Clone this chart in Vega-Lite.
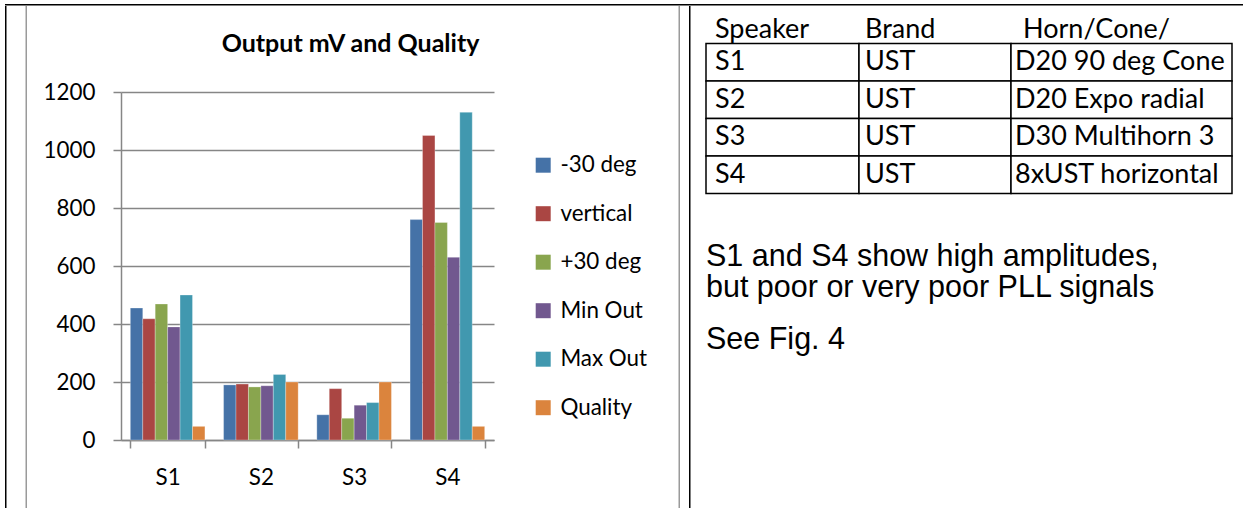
{
  "$schema": "https://vega.github.io/schema/vega-lite/v6.json",
  "background": "white",
  "padding": {"left": 5, "top": 4, "right": 0, "bottom": 0},
  "config": {"view": {"stroke": null}, "font": "Lato", "concat": {"spacing": 0}},
  "datasets": {
    "none": [],
    "bars": [
      {"speaker": "S1", "series": "-30 deg", "value": 455},
      {"speaker": "S1", "series": "vertical", "value": 418},
      {"speaker": "S1", "series": "+30 deg", "value": 469},
      {"speaker": "S1", "series": "Min Out", "value": 390},
      {"speaker": "S1", "series": "Max Out", "value": 500},
      {"speaker": "S1", "series": "Quality", "value": 47},
      {"speaker": "S2", "series": "-30 deg", "value": 190},
      {"speaker": "S2", "series": "vertical", "value": 193},
      {"speaker": "S2", "series": "+30 deg", "value": 183},
      {"speaker": "S2", "series": "Min Out", "value": 187},
      {"speaker": "S2", "series": "Max Out", "value": 226},
      {"speaker": "S2", "series": "Quality", "value": 200},
      {"speaker": "S3", "series": "-30 deg", "value": 87},
      {"speaker": "S3", "series": "vertical", "value": 177},
      {"speaker": "S3", "series": "+30 deg", "value": 75},
      {"speaker": "S3", "series": "Min Out", "value": 120},
      {"speaker": "S3", "series": "Max Out", "value": 129},
      {"speaker": "S3", "series": "Quality", "value": 200},
      {"speaker": "S4", "series": "-30 deg", "value": 760},
      {"speaker": "S4", "series": "vertical", "value": 1050},
      {"speaker": "S4", "series": "+30 deg", "value": 750},
      {"speaker": "S4", "series": "Min Out", "value": 630},
      {"speaker": "S4", "series": "Max Out", "value": 1130},
      {"speaker": "S4", "series": "Quality", "value": 47}
    ],
    "table": [
      {"row": "Header", "col": "Speaker", "text": "Speaker"},
      {"row": "Header", "col": "Brand", "text": "Brand"},
      {"row": "Header", "col": "Horn", "text": "Horn/Cone/"},
      {"row": "S1", "col": "Speaker", "text": "S1"},
      {"row": "S1", "col": "Brand", "text": "UST"},
      {"row": "S1", "col": "Horn", "text": "D20 90 deg Cone"},
      {"row": "S2", "col": "Speaker", "text": "S2"},
      {"row": "S2", "col": "Brand", "text": "UST"},
      {"row": "S2", "col": "Horn", "text": "D20 Expo radial"},
      {"row": "S3", "col": "Speaker", "text": "S3"},
      {"row": "S3", "col": "Brand", "text": "UST"},
      {"row": "S3", "col": "Horn", "text": "D30 Multihorn 3"},
      {"row": "S4", "col": "Speaker", "text": "S4"},
      {"row": "S4", "col": "Brand", "text": "UST"},
      {"row": "S4", "col": "Horn", "text": "8xUST horizontal"}
    ]
  },
  "spacing": 0,
  "vconcat": [
    {"width": 1238, "height": 1.5, "data": {"name": "none"}, "mark": {"type": "text"}, "encoding": {}, "view": {"fill": "#000000", "stroke": null}},
    {
      "spacing": 18.5,
      "hconcat": [
        {"width": 1.5, "height": 502, "data": {"name": "none"}, "mark": {"type": "text"}, "encoding": {}, "view": {"fill": "#000000", "stroke": null}},
        {
          "spacing": 15.5,
          "hconcat": [
            {"width": 1.5, "height": 502, "data": {"name": "none"}, "mark": {"type": "text"}, "encoding": {}, "view": {"fill": "#9a9a9a", "stroke": null}},
            {
              "spacing": 184.5,
              "hconcat": [
                {
                  "spacing": 0,
                  "vconcat": [
                    {"width": 1, "height": 26, "data": {"name": "none"}, "mark": {"type": "text"}, "encoding": {}},
                    {
                      "width": 373,
                      "height": 348,
                      "data": {"name": "bars"},
                      "title": {"text": "Output mV and Quality", "font": "Lato", "fontSize": 25, "fontWeight": "bold", "color": "#000000", "anchor": "middle", "frame": "bounds", "baseline": "alphabetic", "offset": 4, "dx": 82},
                      "mark": {"type": "bar", "stroke": "#ffffff", "strokeOpacity": 0.35, "strokeWidth": 0.8},
                      "encoding": {
                        "x": {"field": "speaker", "type": "nominal", "sort": ["S1", "S2", "S3", "S4"],
                              "scale": {"paddingInner": 0.2, "paddingOuter": 0.1},
                              "axis": {"title": null, "labelAngle": 0, "tickBand": "extent", "tickSize": 8, "tickWidth": 1.5, "tickColor": "#868686", "domainColor": "#868686", "domainWidth": 1.5, "labelFont": "Lato", "labelFontSize": 22.4, "labelColor": "#000000", "labelBaseline": "alphabetic", "labelPadding": 36}},
                        "xOffset": {"field": "series", "type": "nominal", "sort": ["-30 deg", "vertical", "+30 deg", "Min Out", "Max Out", "Quality"], "scale": {"paddingInner": 0, "paddingOuter": 0}},
                        "y": {"field": "value", "type": "quantitative", "scale": {"domain": [0, 1200], "nice": false},
                              "axis": {"title": null, "format": "d", "values": [0, 200, 400, 600, 800, 1000, 1200], "grid": true, "gridColor": "#868686", "gridWidth": 1.5, "domainColor": "#868686", "domainWidth": 1.5, "tickSize": 8, "tickWidth": 1.5, "tickColor": "#868686", "labelPadding": 18, "labelFont": "Lato", "labelFontSize": 22.4, "labelColor": "#000000"}},
                        "color": {"field": "series", "type": "nominal",
                                  "scale": {"domain": ["-30 deg", "vertical", "+30 deg", "Min Out", "Max Out", "Quality"], "range": ["#4572A7", "#AA4643", "#89A54E", "#71588F", "#4198AF", "#DB843D"]},
                                  "legend": {"title": null, "orient": "none", "legendX": 527, "legendY": 150, "padding": 0, "symbolType": "square", "symbolSize": 225, "symbolStrokeWidth": 0, "symbolOpacity": 1, "labelFont": "Lato", "labelFontSize": 22.4, "labelColor": "#000000", "labelOffset": 6, "rowPadding": 25.5}}
                      }
                    }
                  ]
                },
                {
                  "spacing": 8.5,
                  "hconcat": [
                    {"width": 1.5, "height": 502, "data": {"name": "none"}, "mark": {"type": "text"}, "encoding": {}, "view": {"fill": "#9a9a9a", "stroke": null}},
                    {
                      "spacing": 14,
                      "hconcat": [
                        {"width": 1.5, "height": 502, "data": {"name": "none"}, "mark": {"type": "text"}, "encoding": {}, "view": {"fill": "#000000", "stroke": null}},
                        {
                          "spacing": 46,
                          "vconcat": [
                            {
                              "spacing": 0,
                              "bounds": "flush",
                              "hconcat": [
                                {
                                  "width": 153, "height": 187.5,
                                  "data": {"name": "table"},
                                  "transform": [{"filter": "datum.col === 'Speaker'"}],
                                  "encoding": {
                                    "x": {"field": "col", "type": "nominal", "scale": {"paddingInner": 0, "paddingOuter": 0}, "axis": null},
                                    "y": {"field": "row", "type": "nominal", "scale": {"domain": ["Header", "S1", "S2", "S3", "S4"], "paddingInner": 0, "paddingOuter": 0}, "axis": null}
                                  },
                                  "layer": [
                                    {"transform": [{"filter": "datum.row !== 'Header'"}], "mark": {"type": "rect", "fill": "#ffffff", "stroke": "#000000", "strokeWidth": 1.5}},
                                    {"transform": [{"filter": "datum.row !== 'Header'"}], "mark": {"type": "text", "align": "left", "baseline": "middle", "dx": 9, "font": "Lato", "fontSize": 27, "color": "#000000"},
                                     "encoding": {"text": {"field": "text"}, "x": {"field": "col", "type": "nominal", "bandPosition": 0}}},
                                    {"transform": [{"filter": "datum.row === 'Header'"}], "mark": {"type": "text", "align": "left", "baseline": "middle", "dx": 9, "dy": 5, "font": "Lato", "fontSize": 27, "color": "#000000"},
                                     "encoding": {"text": {"field": "text"}, "x": {"field": "col", "type": "nominal", "bandPosition": 0}}}
                                  ]
                                },
                                {
                                  "width": 152, "height": 187.5,
                                  "data": {"name": "table"},
                                  "transform": [{"filter": "datum.col === 'Brand'"}],
                                  "encoding": {
                                    "x": {"field": "col", "type": "nominal", "scale": {"paddingInner": 0, "paddingOuter": 0}, "axis": null},
                                    "y": {"field": "row", "type": "nominal", "scale": {"domain": ["Header", "S1", "S2", "S3", "S4"], "paddingInner": 0, "paddingOuter": 0}, "axis": null}
                                  },
                                  "layer": [
                                    {"transform": [{"filter": "datum.row !== 'Header'"}], "mark": {"type": "rect", "fill": "#ffffff", "stroke": "#000000", "strokeWidth": 1.5}},
                                    {"transform": [{"filter": "datum.row !== 'Header'"}], "mark": {"type": "text", "align": "left", "baseline": "middle", "dx": 6, "font": "Lato", "fontSize": 27, "color": "#000000"},
                                     "encoding": {"text": {"field": "text"}, "x": {"field": "col", "type": "nominal", "bandPosition": 0}}},
                                    {"transform": [{"filter": "datum.row === 'Header'"}], "mark": {"type": "text", "align": "left", "baseline": "middle", "dx": 6, "dy": 5, "font": "Lato", "fontSize": 27, "color": "#000000"},
                                     "encoding": {"text": {"field": "text"}, "x": {"field": "col", "type": "nominal", "bandPosition": 0}}}
                                  ]
                                },
                                {
                                  "width": 221, "height": 187.5,
                                  "data": {"name": "table"},
                                  "transform": [{"filter": "datum.col === 'Horn'"}],
                                  "encoding": {
                                    "x": {"field": "col", "type": "nominal", "scale": {"paddingInner": 0, "paddingOuter": 0}, "axis": null},
                                    "y": {"field": "row", "type": "nominal", "scale": {"domain": ["Header", "S1", "S2", "S3", "S4"], "paddingInner": 0, "paddingOuter": 0}, "axis": null}
                                  },
                                  "layer": [
                                    {"transform": [{"filter": "datum.row !== 'Header'"}], "mark": {"type": "rect", "fill": "#ffffff", "stroke": "#000000", "strokeWidth": 1.5}},
                                    {"transform": [{"filter": "datum.row !== 'Header'"}], "mark": {"type": "text", "align": "left", "baseline": "middle", "dx": 4, "font": "Lato", "fontSize": 27, "color": "#000000"},
                                     "encoding": {"text": {"field": "text"}, "x": {"field": "col", "type": "nominal", "bandPosition": 0}}},
                                    {"transform": [{"filter": "datum.row === 'Header'"}], "mark": {"type": "text", "align": "left", "baseline": "middle", "dx": 12, "dy": 5, "font": "Lato", "fontSize": 27, "color": "#000000"},
                                     "encoding": {"text": {"field": "text"}, "x": {"field": "col", "type": "nominal", "bandPosition": 0}}}
                                  ]
                                }
                              ]
                            },
                            {
                              "width": 520, "height": 1,
                              "data": {"name": "none"},
                              "mark": {"type": "text"},
                              "encoding": {},
                              "title": {"text": ["S1 and S4 show high amplitudes,", "but poor or very poor PLL signals"], "subtitle": "See Fig. 4", "anchor": "start", "frame": "group", "font": "Liberation Sans", "fontSize": 30.5, "fontWeight": "normal", "color": "#000000", "lineHeight": 31.5, "subtitleFont": "Liberation Sans", "subtitleFontSize": 30.5, "subtitleColor": "#000000", "subtitlePadding": 21, "subtitleLineHeight": 31.5, "offset": 0, "baseline": "alphabetic"}
                            }
                          ]
                        }
                      ]
                    }
                  ]
                }
              ]
            }
          ]
        }
      ]
    }
  ]
}
